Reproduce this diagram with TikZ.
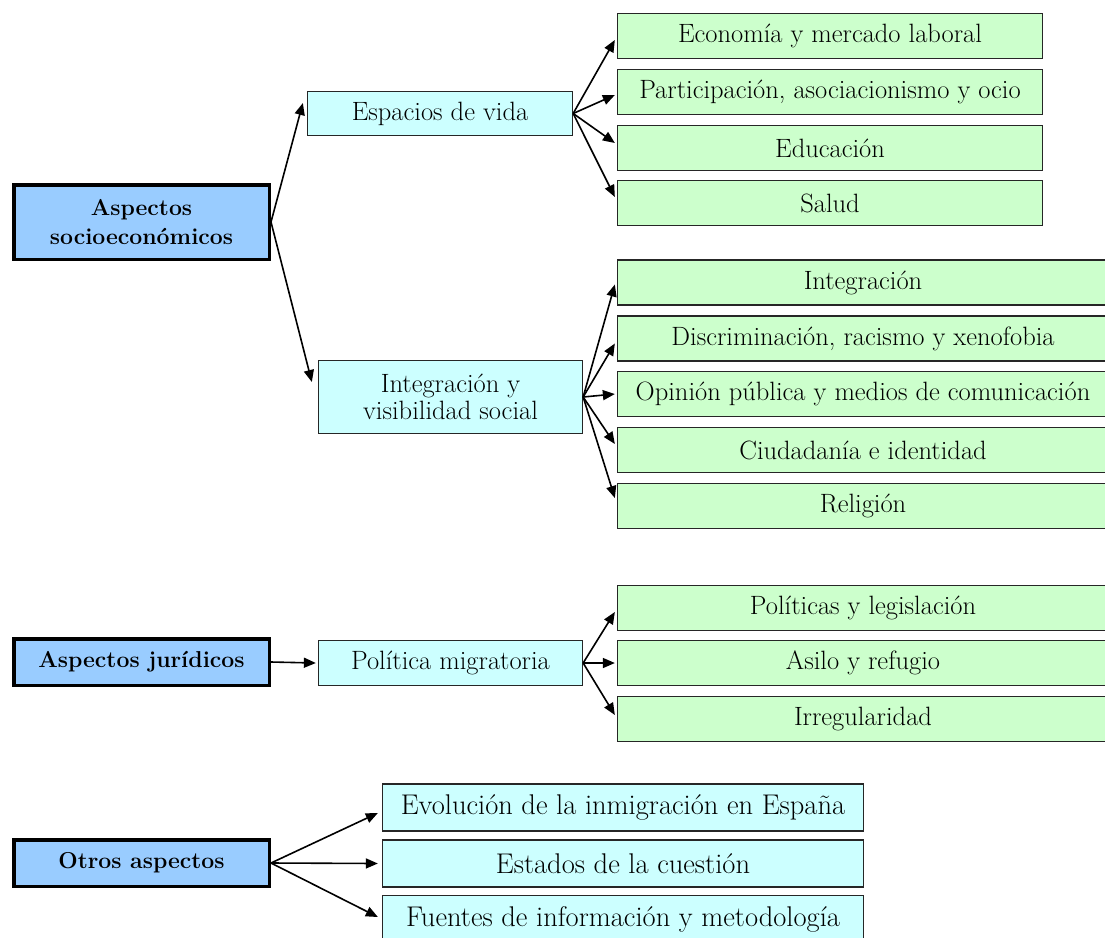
\documentclass[tikz,border=0pt]{standalone}
\usetikzlibrary{arrows.meta}
\definecolor{blueb}{HTML}{99CCFF}
\definecolor{cyanb}{HTML}{CCFFFF}
\definecolor{greenb}{HTML}{CCFFCC}
\begin{document}
\begin{tikzpicture}[x=1pt,y=-1pt,
  box/.style={draw=black!85, line width=1.3pt, inner sep=0pt, align=center,
    font=\fontsize{26.5}{27}\selectfont},
  mainbox/.style={draw=black, line width=3.5pt, fill=blueb, inner sep=0pt, align=center,
    minimum width=255.5pt, font=\fontsize{23}{29}\selectfont\bfseries},
  subbox/.style={box, fill=cyanb, minimum width=264pt},
  leafa/.style={box, fill=greenb, minimum width=425pt, minimum height=45pt},
  leafb/.style={box, fill=greenb, minimum width=491pt, minimum height=45pt},
  otherbox/.style={box, fill=cyanb, minimum width=481pt, minimum height=47pt,
    font=\fontsize{28.5}{29}\selectfont},
  arr/.style={-{Triangle[length=12pt,width=10pt]}, line width=1.6pt}]
\useasboundingbox (0,0) rectangle (1105,937);
\clip (0,0) rectangle (1105,937);

% main boxes
\node[mainbox, minimum height=74.5pt] (socio) at (141.5,222) {Aspectos\\socioeconómicos};
\node[mainbox, minimum height=46.5pt] (jur) at (141.5,662) {Aspectos jurídicos};
\node[mainbox, minimum height=46.5pt] (otros) at (141.5,863) {Otros aspectos};

% second level
\node[subbox, minimum width=265pt, minimum height=44pt] (espacios) at (440,113.5) {Espacios de vida};
\node[subbox, minimum height=73pt] (integ) at (450.5,397) {Integración y\\visibilidad social};
\node[subbox, minimum height=45pt] (politica) at (450.5,663) {Política migratoria};

% group 1
\node[leafa] (a1) at (830,36) {Economía y mercado laboral};
\node[leafa] (a2) at (830,92) {Participación, asociacionismo y ocio};
\node[leafa] (a3) at (830,148) {Educación};
\node[leafa] (a4) at (830,203) {Salud};

% group 2
\node[leafb] (b1) at (863,282.5) {Integración};
\node[leafb] (b2) at (863,338.5) {Discriminación, racismo y xenofobia};
\node[leafb] (b3) at (863,394) {Opinión pública y medios de comunicación};
\node[leafb] (b4) at (863,450) {Ciudadanía e identidad};
\node[leafb] (b5) at (863,506) {Religión};

% group 3
\node[leafb] (c1) at (863,608) {Políticas y legislación};
\node[leafb] (c2) at (863,663) {Asilo y refugio};
\node[leafb] (c3) at (863,719) {Irregularidad};

% group 4
\node[otherbox] (d1) at (623,807.5) {Evolución de la inmigración en España};
\node[otherbox] (d2) at (623,863.5) {Estados de la cuestión};
\node[otherbox] (d3) at (623,919) {Fuentes de información y metodología};

% arrows
\draw[arr] (socio.east) -- ([xshift=-4pt,yshift=10.5pt]espacios.west);
\draw[arr] (socio.east) -- ([xshift=-6pt,yshift=15pt]integ.west);
\draw[arr] (jur.east) -- ([xshift=-2pt]politica.west);

\draw[arr] (espacios.east) -- ([xshift=-2pt,yshift=-4pt]a1.west);
\draw[arr] (espacios.east) -- ([xshift=-2pt,yshift=-3pt]a2.west);
\draw[arr] (espacios.east) -- ([xshift=-2pt,yshift=5pt]a3.west);
\draw[arr] (espacios.east) -- ([xshift=-2pt,yshift=6pt]a4.west);

\draw[arr] (integ.east) -- ([xshift=-2pt,yshift=-2pt]b1.west);
\draw[arr] (integ.east) -- ([xshift=-2pt,yshift=-5pt]b2.west);
\draw[arr] (integ.east) -- ([xshift=-2pt]b3.west);
\draw[arr] (integ.east) -- ([xshift=-2pt,yshift=6pt]b4.west);
\draw[arr] (integ.east) -- ([xshift=-2pt,yshift=8pt]b5.west);

\draw[arr] (politica.east) -- ([xshift=-2pt,yshift=-4pt]c1.west);
\draw[arr] (politica.east) -- ([xshift=-2pt]c2.west);
\draw[arr] (politica.east) -- ([xshift=-2pt,yshift=4pt]c3.west);

\draw[arr] (otros.east) -- ([xshift=-4pt,yshift=-5.5pt]d1.west);
\draw[arr] (otros.east) -- ([xshift=-4pt]d2.west);
\draw[arr] (otros.east) -- ([xshift=-4pt,yshift=2pt]d3.west);
\end{tikzpicture}
\end{document}
